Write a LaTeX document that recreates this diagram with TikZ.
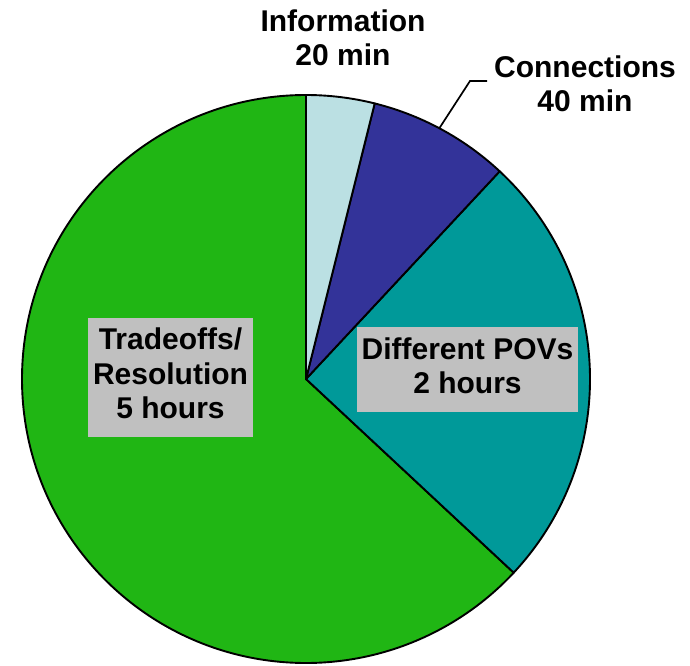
\documentclass[tikz,border=0pt]{standalone}
\usepackage{fontspec}
\setmainfont{Liberation Sans}
\usetikzlibrary{calc}
\definecolor{infoblue}{RGB}{187,224,227}
\definecolor{connblue}{RGB}{51,51,153}
\definecolor{povteal}{RGB}{0,153,153}
\definecolor{tradegreen}{RGB}{32,182,20}
\definecolor{boxgray}{RGB}{192,192,192}
\begin{document}
\begin{tikzpicture}[x=1pt,y=1pt,
  slice/.style={draw=black,line width=1.9pt,line join=round},
  lbl/.style={font={\fontsize{30}{34.5}\selectfont\bfseries},align=center,inner sep=0pt},
  boxlbl/.style={lbl,fill=boxgray,inner sep=2pt},
  leader/.style={draw=black,line width=1.7pt}]
  \useasboundingbox (0,0) rectangle (690,665);
  \def\R{284}
  \coordinate (c) at (306,286);
  % pie slices, clockwise from the top
  \filldraw[slice,fill=tradegreen] (c) -- ++(90:\R) arc[start angle=90,end angle=317,radius=\R] -- cycle;
  \filldraw[slice,fill=povteal] (c) -- ++(-43:\R) arc[start angle=-43,end angle=47,radius=\R] -- cycle;
  \filldraw[slice,fill=connblue] (c) -- ++(47:\R) arc[start angle=47,end angle=76,radius=\R] -- cycle;
  \filldraw[slice,fill=infoblue] (c) -- ++(76:\R) arc[start angle=76,end angle=90,radius=\R] -- cycle;
  % labels
  \node[lbl] (info) at (343,623.5) {\strut Information\\20 min\strut};
  \node[lbl] (conn) at (585,577.5) {\strut Connections\\40 min\strut};
  \node[boxlbl,minimum width=165pt,minimum height=119pt] (trade) at (170.5,287.5)
    {\strut Tradeoffs/\\Resolution\\5 hours\strut};
  \node[boxlbl,minimum width=221pt,minimum height=85pt] (pov) at (467.5,295.5)
    {\strut Different POVs\\2 hours\strut};
  % leader line to the Connections label
  \coordinate (connedge) at ($(c)+(62:\R)$);
  \coordinate (connbend) at (470,584);
  \coordinate (connend) at (487,584);
  \draw[leader] (connedge) -- (connbend) -- (connend);
\end{tikzpicture}
\end{document}
